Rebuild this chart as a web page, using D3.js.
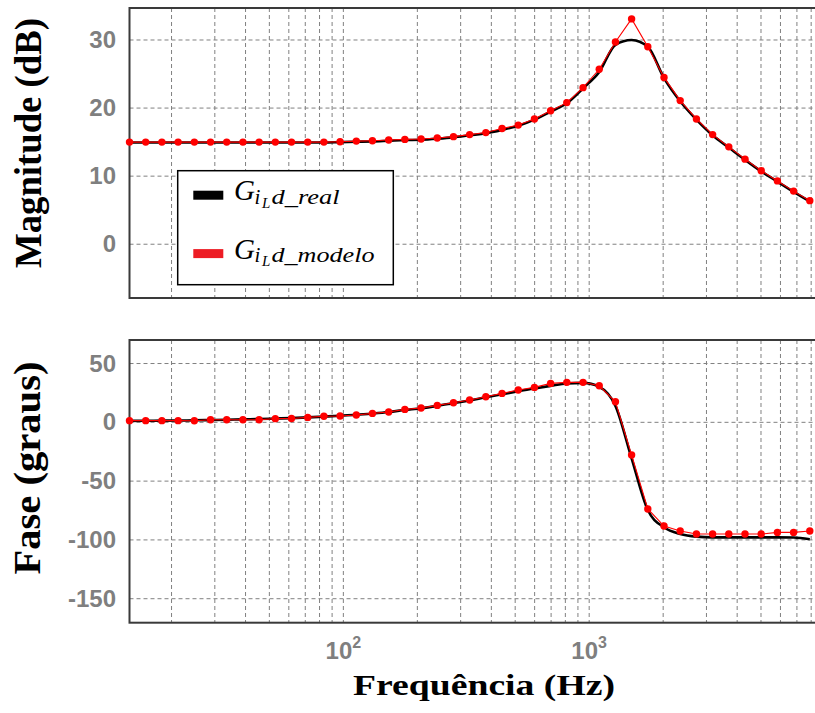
<!DOCTYPE html>
<html>
<head>
<meta charset="utf-8">
<script src="https://cdn.jsdelivr.net/npm/d3@7"></script>
<style>
  html, body { margin: 0; padding: 0; background: #fff; }
  svg { display: block; }
</style>
</head>
<body>
<svg id="chart" width="815" height="713"></svg>
<script>
// ---------------- DATA ----------------
const freqs = [13.49, 15.70, 18.27, 21.27, 24.76, 28.82, 33.53, 39.03, 45.42, 52.87,
  61.52, 71.61, 83.33, 96.98, 112.9, 131.3, 152.9, 177.9, 207.1, 241.0,
  280.5, 326.4, 379.9, 442.1, 514.5, 598.8, 696.8, 811.0, 944.1, 1099,
  1279, 1488, 1732, 2016, 2346, 2731, 3178, 3698, 4305, 5010,
  5831, 6786, 7898];

const magModelo = [15.0, 15.0, 15.0, 15.0, 15.0, 15.0, 15.0, 15.0, 15.0, 15.0,
  15.0, 15.0, 15.0, 15.05, 15.15, 15.2, 15.3, 15.4, 15.45, 15.6,
  15.8, 16.1, 16.4, 17.0, 17.5, 18.4, 19.6, 20.8, 23.0, 25.7,
  29.7, 33.1, 29.0, 24.5, 21.1, 18.4, 16.1, 14.3, 12.5, 10.8,
  9.3, 7.8, 6.4];

const magReal = [14.95, 14.95, 14.95, 14.95, 14.95, 14.95, 14.95, 14.95, 14.95, 14.95,
  14.95, 14.95, 14.95, 15.0, 15.05, 15.1, 15.2, 15.3, 15.35, 15.5,
  15.7, 16.0, 16.3, 16.8, 17.4, 18.3, 19.5, 20.7, 22.9, 25.3,
  29.3, 30.0, 29.0, 24.4, 21.0, 18.3, 16.0, 14.2, 12.4, 10.7,
  9.2, 7.7, 6.3];

const phaseModelo = [1.4, 1.4, 1.4, 1.4, 1.3, 2.2, 2.2, 2.2, 2.2, 3.1,
  3.3, 4.2, 5.1, 5.4, 6.2, 7.6, 8.8, 11.0, 12.2, 14.4,
  16.7, 19.0, 21.8, 24.6, 27.5, 29.7, 33.1, 34.0, 34.0, 31.1,
  17.5, -27.8, -73.7, -88.2, -92.4, -95.0, -95.0, -95.0, -95.0, -95.0,
  -93.6, -93.6, -92.4];

const phaseReal = [1.2, 1.3, 1.4, 1.5, 1.7, 1.9, 2.2, 2.5, 2.8, 3.2,
  3.6, 4.2, 4.9, 5.6, 6.4, 7.5, 8.8, 10.5, 12.0, 14.0,
  16.3, 18.6, 21.3, 23.8, 26.5, 28.8, 31.0, 33.0, 33.5, 30.2,
  14.0, -30.6, -74.6, -89.3, -95.0, -97.2, -97.8, -97.8, -97.8, -97.8,
  -97.8, -98.0, -99.5];

const magTicks = [0, 10, 20, 30];
const phaseTicks = [-150, -100, -50, 0, 50];
const decadeTicks = [100, 1000];
const decadeLabels = [["10", "2"], ["10", "3"]];
const gridFreqs = [20, 30, 40, 50, 60, 70, 80, 90, 100, 200, 300, 400, 500, 600, 700, 800, 900,
  1000, 2000, 3000, 4000, 5000, 6000, 7000, 8000];
const legendNames = [["real"], ["modelo"]];

// ---------------- CHART ----------------
const svg = d3.select("#chart");
const left = 129.5, right = 820;

const x = d3.scaleLog().domain([13.49, 8690]).range([left, right]);

const panels = [
  { top: 8, bottom: 298, domain: [-7.9, 34.7], ticks: magTicks, real: magReal, modelo: magModelo },
  { top: 340, bottom: 622.7, domain: [-170.4, 70], ticks: phaseTicks, real: phaseReal, modelo: phaseModelo }
];

const tickFont = "'Liberation Sans', Arial, sans-serif";
const serif = "'Liberation Serif', 'Times New Roman', serif";

panels.forEach(p => {
  const y = d3.scaleLinear().domain(p.domain).range([p.bottom, p.top]);
  const g = svg.append("g");

  // grid
  g.selectAll(".vg").data(gridFreqs).enter().append("line")
    .attr("x1", d => x(d)).attr("x2", d => x(d))
    .attr("y1", p.top).attr("y2", p.bottom)
    .attr("stroke", "#808080").attr("stroke-width", 1)
    .attr("stroke-dasharray", "4,3");
  g.selectAll(".hg").data(p.ticks).enter().append("line")
    .attr("x1", left).attr("x2", right)
    .attr("y1", d => y(d)).attr("y2", d => y(d))
    .attr("stroke", "#808080").attr("stroke-width", 1)
    .attr("stroke-dasharray", "4,3");

  // frame
  g.append("rect").attr("x", left).attr("y", p.top)
    .attr("width", right - left + 5).attr("height", p.bottom - p.top)
    .attr("fill", "none").attr("stroke", "#3a3a3a").attr("stroke-width", 2);

  // y tick labels
  g.selectAll(".yl").data(p.ticks).enter().append("text")
    .attr("x", 116).attr("y", d => y(d) + 8)
    .attr("text-anchor", "end")
    .attr("font-family", tickFont).attr("font-weight", "bold")
    .attr("font-size", 24).attr("fill", "#7f7f7f")
    .text(d => d);

  // lines
  const lineReal = d3.line().x((d, i) => x(freqs[i])).y(d => y(d)).curve(d3.curveMonotoneX);
  const lineMod = d3.line().x((d, i) => x(freqs[i])).y(d => y(d));

  g.append("path").datum(p.real).attr("d", lineReal)
    .attr("fill", "none").attr("stroke", "#000").attr("stroke-width", 2.6)
    .attr("stroke-linejoin", "round");
  g.append("path").datum(p.modelo).attr("d", lineMod)
    .attr("fill", "none").attr("stroke", "#ff0000").attr("stroke-width", 1.1);
  g.selectAll(".mk").data(p.modelo).enter().append("circle")
    .attr("cx", (d, i) => x(freqs[i])).attr("cy", d => y(d))
    .attr("r", 3.7).attr("fill", "#ff0000");
});

// x tick labels (decades)
decadeTicks.forEach((f, i) => {
  const t = svg.append("text")
    .attr("x", x(f)).attr("y", 659)
    .attr("text-anchor", "middle")
    .attr("font-family", tickFont).attr("font-weight", "bold")
    .attr("font-size", 24).attr("fill", "#7f7f7f");
  t.append("tspan").text(decadeLabels[i][0]);
  t.append("tspan").attr("font-size", 16).attr("dy", -11).text(decadeLabels[i][1]);
});

// axis titles
svg.append("text")
  .attr("transform", "translate(40.5,143) rotate(-90)")
  .attr("text-anchor", "middle")
  .attr("font-family", serif).attr("font-weight", "bold").attr("font-size", 37)
  .attr("textLength", 250).attr("lengthAdjust", "spacingAndGlyphs")
  .text("Magnitude (dB)");
svg.append("text")
  .attr("transform", "translate(40,468) rotate(-90)")
  .attr("text-anchor", "middle")
  .attr("font-family", serif).attr("font-weight", "bold").attr("font-size", 37)
  .attr("textLength", 213).attr("lengthAdjust", "spacingAndGlyphs")
  .text("Fase (graus)");
svg.append("text")
  .attr("x", 484).attr("y", 695)
  .attr("text-anchor", "middle")
  .attr("font-family", serif).attr("font-weight", "bold").attr("font-size", 30)
  .attr("textLength", 262).attr("lengthAdjust", "spacingAndGlyphs")
  .text("Frequência (Hz)");

// legend
const lg = svg.append("g");
lg.append("rect").attr("x", 177.7).attr("y", 170.7).attr("width", 215.6).attr("height", 114)
  .attr("fill", "#fff").attr("stroke", "#000").attr("stroke-width", 1.5);
const legendColors = ["#000000", "#ed1c24"];
const sub = [68, 103];
legendNames.forEach((nm, i) => {
  const dy = i * 58.4;
  lg.append("rect").attr("x", 193.3).attr("y", 190.7 + dy).attr("width", 30).attr("height", 9)
    .attr("fill", legendColors[i]);
  const it = { "font-family": serif, "font-style": "italic", "fill": "#000" };
  const a = (sel) => { Object.entries(it).forEach(([k, v]) => sel.attr(k, v)); return sel; };
  a(lg.append("text")).attr("x", 234).attr("y", 200.3 + dy).attr("font-size", 29).text("G");
  a(lg.append("text")).attr("x", 254.5).attr("y", 204 + dy).attr("font-size", 21).text("i");
  a(lg.append("text")).attr("x", 262).attr("y", 207.5 + dy).attr("font-size", 15).text("L");
  a(lg.append("text")).attr("x", 271.5).attr("y", 204 + dy).attr("font-size", 21)
    .attr("textLength", sub[i]).attr("lengthAdjust", "spacingAndGlyphs")
    .text("d_" + nm[0]);
});
</script>
</body>
</html>
